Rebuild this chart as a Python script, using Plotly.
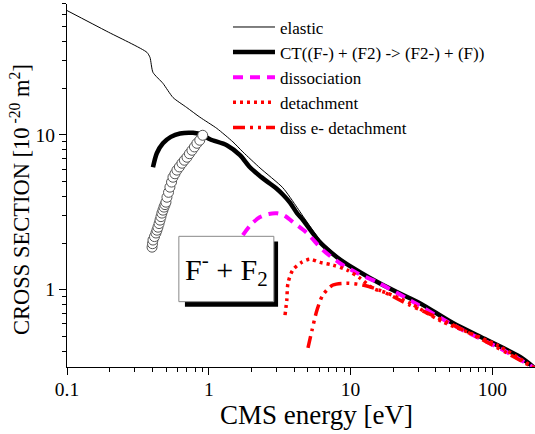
import plotly.graph_objects as go

# ---------------- data ----------------
elastic_E = [0.1, 0.191, 0.366, 0.385, 0.404, 0.475, 0.56, 0.70, 0.865, 1.14, 1.48, 1.74, 2.30, 3.33,
             4.19, 4.62, 6.08, 8.02, 10.4, 13.7, 21.2, 30.8, 52.7, 91.6, 157, 200]
elastic_S = [63.5, 46.6, 34.1, 31.6, 25.3, 21.5, 17.4, 15.0, 13.0, 11.0, 9.0, 7.75, 6.1, 4.55,
             3.4, 2.98, 2.10, 1.66, 1.40, 1.21, 0.975, 0.825, 0.612, 0.474, 0.368, 0.31]

ct_E = [0.404, 0.43, 0.475, 0.54, 0.627, 0.774, 0.9, 1.02, 1.34, 1.66, 1.95, 2.25, 2.57, 3.0, 3.34,
        3.74, 4.19, 4.62, 6.08, 8.02, 10.4, 13.7, 21.2, 30.8, 52.7, 91.6, 157, 200]
ct_S = [6.17, 7.6, 8.82, 9.7, 10.2, 10.3, 10.0, 9.35, 8.56, 7.38, 6.17, 5.5, 5.0, 4.5, 4.1,
        3.65, 3.12, 2.81, 2.02, 1.62, 1.38, 1.19, 0.964, 0.818, 0.608, 0.472, 0.367, 0.31]

circ_E = [0.398, 0.401, 0.404, 0.414, 0.424, 0.431, 0.438, 0.446, 0.453, 0.460, 0.467, 0.475, 0.483,
          0.491, 0.499, 0.507, 0.520, 0.532, 0.546, 0.559, 0.577, 0.596, 0.620, 0.647, 0.673, 0.702,
          0.730, 0.761, 0.792, 0.825, 0.864, 0.906]
circ_S = [1.88, 1.98, 2.09, 2.20, 2.32, 2.42, 2.53, 2.67, 2.81, 2.96, 3.12, 3.26, 3.41, 3.54, 3.67,
          3.95, 4.25, 4.59, 4.95, 5.32, 5.60, 5.91, 6.20, 6.55, 6.85, 7.16, 7.55, 7.94, 8.35, 8.81,
          9.22, 9.93]

diss_E = [1.74, 2.0, 2.30, 2.65, 3.03, 3.40, 3.92, 4.93, 6.38, 8.42, 11.1, 15.3, 26.2, 56.2, 119, 200]
diss_S = [2.25, 2.65, 2.94, 3.08, 3.11, 3.02, 2.73, 2.32, 1.80, 1.48, 1.28, 1.12, 0.855, 0.573, 0.407, 0.31]

det_E = [3.45, 3.55, 3.62, 3.92, 4.52, 5.17, 6.08, 7.5, 9.4, 11.6, 14.4, 18.1, 26.2, 34.6, 44.9,
         69.5, 108, 175, 200]
det_S = [0.684, 0.855, 1.10, 1.34, 1.50, 1.57, 1.50, 1.44, 1.34, 1.19, 1.02, 0.95, 0.818, 0.705,
         0.617, 0.524, 0.438, 0.336, 0.31]

dde_E = [5.01, 5.35, 5.80, 6.38, 7.51, 9.4, 12.2, 16.1, 26.2, 47.9, 91.6, 187]
dde_S = [0.42, 0.548, 0.738, 0.923, 1.07, 1.10, 1.07, 0.99, 0.794, 0.617, 0.458, 0.32]

x_major = [0.1, 1, 10, 100]
x_major_text = ["0.1", "1", "10", "100"]
x_minor = [0.2, 0.3, 0.4, 0.5, 0.6, 0.7, 0.8, 0.9, 2, 3, 4, 5, 6, 7, 8, 9,
           20, 30, 40, 50, 60, 70, 80, 90, 200]
y_major = [1, 10]
y_major_text = ["1", "10"]
y_minor = [0.4, 0.5, 0.6, 0.7, 0.8, 0.9, 2, 3, 4, 5, 6, 7, 8, 9, 20, 30, 40, 50, 60, 70]

x_title = "CMS energy [eV]"
y_title = "CROSS SECTION [10<sup> -20</sup> m<sup>2</sup>]"
box_label = "F<sup>-</sup> + F<sub>2</sub>"

FONT = "Liberation Serif"

fig = go.Figure()
fig.add_trace(go.Scatter(x=elastic_E, y=elastic_S, mode="lines", name="elastic",
                         line=dict(color="black", width=1, shape="spline", smoothing=0.6)))
fig.add_trace(go.Scatter(x=ct_E, y=ct_S, mode="lines", name="CT((F-) + (F2) -> (F2-) + (F))",
                         line=dict(color="black", width=4.5, shape="spline", smoothing=0.8)))
fig.add_trace(go.Scatter(x=circ_E, y=circ_S, mode="markers", showlegend=False,
                         marker=dict(symbol="circle", size=10, color="white",
                                     line=dict(color="#555555", width=1))))
fig.add_trace(go.Scatter(x=diss_E, y=diss_S, mode="lines", name="dissociation",
                         line=dict(color="#FF00FF", width=4, dash="10px,7px", shape="spline", smoothing=0.8)))
fig.add_trace(go.Scatter(x=det_E, y=det_S, mode="lines", name="detachment",
                         line=dict(color="#FF0000", width=3.5, dash="3px,4px", shape="spline", smoothing=0.8)))
fig.add_trace(go.Scatter(x=dde_E, y=dde_S, mode="lines", name="diss e- detachment",
                         line=dict(color="#FF0000", width=3.5, dash="12px,5px,3px,5px,3px,5px",
                                   shape="spline", smoothing=0.8)))

# label box with shadow
fig.add_shape(type="rect", xref="paper", yref="paper", x0=0.252, x1=0.451, y0=0.166, y1=0.346,
              fillcolor="black", line=dict(width=0), layer="above")
fig.add_shape(type="rect", xref="paper", yref="paper", x0=0.239, x1=0.442, y0=0.180, y1=0.360,
              fillcolor="white", line=dict(color="#888888", width=1), layer="above")
fig.add_annotation(xref="paper", yref="paper", x=0.340, y=0.268, xanchor="center", yanchor="middle",
                   showarrow=False, text=box_label, font=dict(family=FONT, size=30, color="black"))

# axis titles
fig.add_annotation(xref="paper", yref="paper", x=0.534, y=-0.131, xanchor="center", yanchor="middle",
                   showarrow=False, text=x_title, font=dict(family=FONT, size=27, color="black"))
fig.add_annotation(xref="paper", yref="paper", x=-0.1004, y=0.46, xanchor="center", yanchor="middle",
                   showarrow=False, textangle=-90, text=y_title,
                   font=dict(family=FONT, size=22.5, color="black"))

fig.update_layout(
    width=535, height=434,
    margin=dict(l=67, r=0, t=4, b=67, autoexpand=False),
    paper_bgcolor="white", plot_bgcolor="white",
    font=dict(family=FONT, color="black"),
    showlegend=True,
    legend=dict(x=0.344, y=0.985, xanchor="left", yanchor="top", bgcolor="rgba(0,0,0,0)",
                font=dict(family=FONT, size=17, color="black"), itemwidth=42, tracegroupgap=0),
    xaxis=dict(type="log", range=[-1, 2.301], showgrid=False, zeroline=False, automargin=False,
               showline=True, linecolor="black", linewidth=1.2,
               tickmode="array", tickvals=x_major, ticktext=x_major_text,
               ticks="outside", ticklen=7, tickwidth=1.2, tickcolor="black", ticklabelstandoff=-3,
               tickfont=dict(family=FONT, size=19.5, color="black"),
               minor=dict(tickmode="array", tickvals=x_minor, ticks="outside", ticklen=4,
                          tickwidth=1, tickcolor="black", showgrid=False)),
    yaxis=dict(type="log", range=[-0.5, 1.845], showgrid=False, zeroline=False, automargin=False,
               showline=True, linecolor="black", linewidth=1.2,
               tickmode="array", tickvals=y_major, ticktext=y_major_text,
               ticks="outside", ticklen=7, tickwidth=1.2, tickcolor="black",
               tickfont=dict(family=FONT, size=19.5, color="black"),
               minor=dict(tickmode="array", tickvals=y_minor, ticks="outside", ticklen=4,
                          tickwidth=1, tickcolor="black", showgrid=False)),
)

fig.write_html("out.html", config={"displayModeBar": False},
               post_script="document.body.style.margin='0';document.body.style.padding='0';")
